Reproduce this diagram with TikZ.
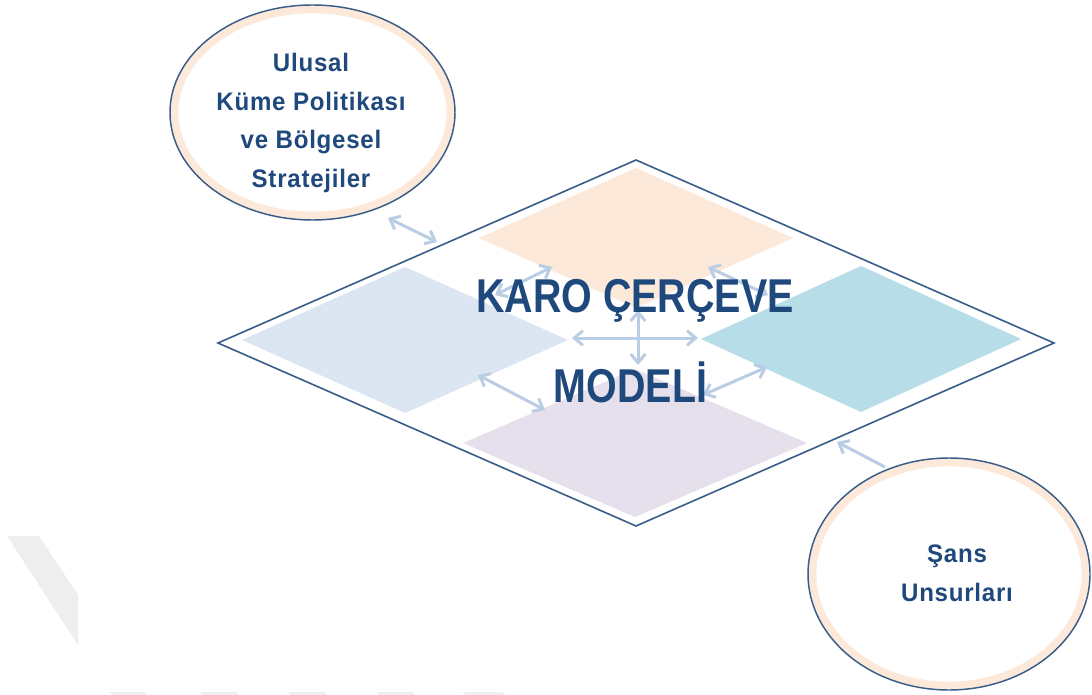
\documentclass[tikz,border=0pt]{standalone}
\usepackage{fontspec}
\usetikzlibrary{shapes.geometric,arrows.meta}
\newfontfamily\titlefont[FakeStretch=0.83]{Liberation Sans}
\newfontfamily\labelfont[FakeStretch=0.95,LetterSpace=3]{Liberation Sans}
\definecolor{txtblue}{RGB}{31,73,125}
\definecolor{lineblue}{RGB}{56,93,138}
\definecolor{peach}{RGB}{253,233,217}
\definecolor{paleblue}{RGB}{220,230,242}
\definecolor{tealfill}{RGB}{183,222,232}
\definecolor{lavender}{RGB}{229,224,236}
\definecolor{arrowblue}{RGB}{185,205,229}
\definecolor{wmgray}{RGB}{238,238,238}

\tikzset{every picture/.style={line width=0.75pt}}
\tikzset{
  tile/.style={diamond, inner sep=0pt, outer sep=0pt, draw=none},
  bubble/.style={ellipse, inner sep=0pt, outer sep=0pt, fill=white, draw=peach, line width=6.5pt},
  rim/.style={draw=lineblue, line width=1.1pt},
  link/.style={draw=arrowblue, line width=2.25pt, {Straight Barb[length=6.5pt,width=11pt]}-{Straight Barb[length=6.5pt,width=11pt]}},
  onelink/.style={draw=arrowblue, line width=2.25pt, -{Straight Barb[length=6.5pt,width=11pt]}},
  bigtext/.style={anchor=base, inner sep=0pt, text=txtblue, font=\titlefont\bfseries\fontsize{35.6}{40}\selectfont},
  smalltext/.style={inner sep=0pt, text=txtblue, align=center, font=\labelfont\bfseries\fontsize{19}{28.9}\selectfont}
}

\begin{document}
\begin{tikzpicture}[x=0.75pt,y=0.75pt,yscale=-1,xscale=1]
\useasboundingbox (0,0) rectangle (1092,695);

%Shape: watermark
\fill [wmgray] (7,536) -- (39,536) -- (78,595) -- (78,645) -- cycle ;
\fill [wmgray] (110,692) -- (145,692) -- (147,695) -- (112,695) -- cycle ;
\fill [wmgray] (200,692) -- (237,692) -- (239,695) -- (202,695) -- cycle ;
\fill [wmgray] (288,692) -- (325,692) -- (327,695) -- (290,695) -- cycle ;
\fill [wmgray] (377,692) -- (413,692) -- (415,695) -- (379,695) -- cycle ;
\fill [wmgray] (463,692) -- (503,692) -- (505,695) -- (465,695) -- cycle ;

%Shape: Diamond frame
\node [tile, draw=lineblue, line width=1.2pt, fill=white, minimum width=627pt, minimum height=274.5pt] (frame) at (636,343) {};

%Shape: Diamond tiles
\node [tile, fill=peach, minimum width=235.5pt, minimum height=105pt] (ttop) at (636,238) {};
\node [tile, fill=paleblue, minimum width=244.5pt, minimum height=109.5pt] (tleft) at (405,340) {};
\node [tile, fill=tealfill, minimum width=240pt, minimum height=109.5pt] (tright) at (861,339) {};
\node [tile, fill=lavender, minimum width=258pt, minimum height=111pt] (tbottom) at (635,443) {};

%Shape: Ellipses
\node [bubble, minimum width=207.75pt, minimum height=155.25pt] (policy) at (312.5,112.5) {};
\draw [rim] (policy.center) ellipse [x radius=106.875pt, y radius=80.625pt] ;
\node [bubble, minimum width=205.5pt, minimum height=168pt] (chance) at (949,574) {};
\draw [rim] (chance.center) ellipse [x radius=105.75pt, y radius=87pt] ;

%Arrow ends
\coordinate (p1) at (388,218) ;
\coordinate (p2) at (437,242) ;
\coordinate (s1) at (885,467) ;
\coordinate (s2) at (837,442) ;
\coordinate (hl) at (572,338) ;
\coordinate (hr) at (698,338) ;
\coordinate (vt) at (638,310) ;
\coordinate (vb) at (638,365) ;
\coordinate (d1a) at (495,295) ;
\coordinate (d1b) at (552,267) ;
\coordinate (d2a) at (708,267) ;
\coordinate (d2b) at (768,295) ;
\coordinate (d3a) at (478,375) ;
\coordinate (d3b) at (545,410) ;
\coordinate (d4a) at (703,395) ;
\coordinate (d4b) at (767,367) ;

%Straight Lines
\draw [link] (p1) -- (p2) ;
\draw [onelink] (s1) -- (s2) ;
\draw [link] (hl) -- (hr) ;
\draw [link] (vt) -- (vb) ;
\draw [link] (d1a) -- (d1b) ;
\draw [link] (d2a) -- (d2b) ;
\draw [link] (d3a) -- (d3b) ;
\draw [link] (d4a) -- (d4b) ;

% Text Node
\node [bigtext] (title1) at (635,312) {KARO ÇERÇEVE};
% Text Node
\node [bigtext] (title2) at (630.5,402) {MODELİ};
% Text Node
\node [smalltext] (policytext) at (311,123) {Ulusal\\Küme Politikası\\ve Bölgesel\\Stratejiler};
% Text Node
\node [smalltext] (chancetext) at (957,573.5) {Şans\\Unsurları};

\end{tikzpicture}
\end{document}
